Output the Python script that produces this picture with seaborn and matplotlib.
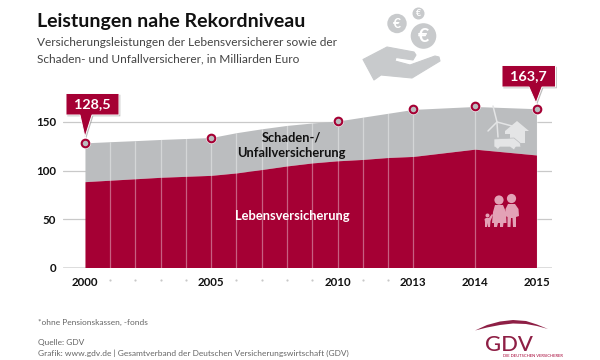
import numpy as np
import matplotlib
matplotlib.use("Agg")
import matplotlib.pyplot as plt
import matplotlib.transforms as mtrans
from matplotlib.patches import Polygon, Circle
import seaborn as sns

years = [2000, 2001, 2002, 2003, 2004, 2005, 2006, 2007, 2008, 2009, 2010, 2011, 2012, 2013, 2014, 2015]
total = [128.5, 129.7, 130.8, 132.0, 133.0, 134.0, 139.0, 143.0, 146.5, 149.0, 151.0, 155.0, 159.0, 163.0, 166.0, 163.7]
life = [88.5, 90.0, 91.5, 93.0, 94.0, 95.0, 97.5, 101.0, 104.7, 107.8, 110.0, 111.4, 113.4, 114.5, 122.0, 116.0]
labelled_years = [2000, 2005, 2010, 2013, 2014, 2015]
minor_years = [2001, 2002, 2003, 2004, 2006, 2007, 2008, 2009, 2011, 2012]
y_ticks = [0, 50, 100, 150]

CRIMSON = "#A50034"
GREY = "#BBBDBF"
LINE = "#C9C9C9"
FONT = "Lato"

sns.set_theme(style="white")
plt.rcParams["font.family"] = FONT

fig = plt.figure(figsize=(6, 3.6), dpi=100, facecolor="white")
px = mtrans.Affine2D().scale(1 / 600, -1 / 360).translate(0, 1) + fig.transFigure

ax = fig.add_axes([63 / 600, 1 - 267.5 / 360, (552 - 63) / 600, (267.5 - 30) / 360])


def fwd(v):
    v = np.asarray(v, dtype=float)
    return np.where(v <= 2013, v - 2000, 13 + (v - 2013) * 2.44)


def inv(u):
    u = np.asarray(u, dtype=float)
    return np.where(u <= 13, u + 2000, 2013 + (u - 13) / 2.44)


ax.set_xscale("function", functions=(fwd, inv))
ax.set_xlim(inv(-22 / 25.3), inv(13 + 2.44 * 2 + 15.5 / 25.3))
ax.set_ylim(0, (267.5 - 30) / 0.97)
for s in ax.spines.values():
    s.set_visible(False)

ax.set_yticks(y_ticks)
ax.set_yticklabels([str(t) for t in y_ticks], fontsize=8.3, fontweight="bold", color="#111111")
ax.tick_params(axis="y", length=0, pad=5)
ax.set_xticks(labelled_years)
ax.set_xticklabels([str(t) for t in labelled_years], fontsize=8.3, fontweight="bold", color="#111111")
ax.minorticks_off()
ax.tick_params(axis="x", length=0, pad=6.5)
ax.yaxis.grid(True, color=LINE, lw=0.9, zorder=0)
ax.xaxis.grid(False)
ax.set_axisbelow(True)
ax.axhline(0, color="#D8D8D8", lw=1.8, zorder=0.5)

ax.fill_between(years, life, total, color=GREY, lw=0, zorder=2)
ax.fill_between(years, 0, life, color=CRIMSON, lw=0, zorder=2)
ax.vlines(years[1:], 0, total[1:], color="white", alpha=0.38, lw=0.9, zorder=3)

mark_total = [total[years.index(y)] for y in labelled_years]
sns.scatterplot(x=labelled_years, y=mark_total, ax=ax, s=60, color="white", linewidth=0,
                zorder=5, clip_on=False, legend=False)
sns.scatterplot(x=labelled_years, y=mark_total, ax=ax, s=30, color=GREY, edgecolor=CRIMSON,
                linewidth=1.5, zorder=6, clip_on=False, legend=False)
sns.scatterplot(x=minor_years, y=[-13] * len(minor_years), ax=ax, s=2.5, color="#C8C8C8", linewidth=0,
                zorder=6, clip_on=False, legend=False)

fig.text(291 / 600, 1 - 138 / 360, "Schaden-/", ha="center", va="center", fontsize=9.3, fontweight="bold", color="#111111")
fig.text(291 / 600, 1 - 153 / 360, "Unfallversicherung", ha="center", va="center", fontsize=9.3, fontweight="bold", color="#111111")
fig.text(292 / 600, 1 - 216 / 360, "Lebensversicherung", ha="center", va="center", fontsize=9.3, fontweight="bold", color="white", zorder=8)

# title block
fig.text(37 / 600, 1 - 21.5 / 360, "Leistungen nahe Rekordniveau", ha="left", va="center", fontsize=14.0, fontweight="bold", color="#111111")
fig.text(37 / 600, 1 - 43 / 360, "Versicherungsleistungen der Lebensversicherer sowie der", ha="left", va="center", fontsize=8.6, color="#444444")
fig.text(37 / 600, 1 - 58.5 / 360, "Schaden- und Unfallversicherer, in Milliarden Euro", ha="left", va="center", fontsize=8.6, color="#444444")

# footer
fig.text(38 / 600, 1 - 322 / 360, "*ohne Pensionskassen, -fonds", ha="left", va="center", fontsize=6.0, color="#666666")
fig.text(38 / 600, 1 - 342 / 360, "Quelle: GDV", ha="left", va="center", fontsize=6.0, color="#666666")
fig.text(38 / 600, 1 - 353 / 360, "Grafik: www.gdv.de | Gesamtverband der Deutschen Versicherungswirtschaft (GDV)", ha="left", va="center", fontsize=6.05, color="#666666")


def add(p):
    p.set_transform(px)
    p.set_clip_on(False)
    fig.add_artist(p)
    return p


def callout(x0, x1, y0, y1, tipx, tipy, baseL, baseR, text):
    pts = [(x0, y0), (x1, y0), (x1, y1), (baseR, y1), (tipx, tipy), (baseL, y1), (x0, y1)]
    add(Polygon([(a + 1.3, b + 1.3) for a, b in pts], closed=True, fc="#8f8f8f", ec="none", alpha=0.6, zorder=9))
    add(Polygon(pts, closed=True, fc=CRIMSON, ec="white", lw=0.7, zorder=10))
    fig.text((x0 + x1) / 2 / 600, 1 - (y0 + y1) / 2 / 360, text, ha="center", va="center", fontsize=10.4,
             fontweight="bold", color="white", zorder=11)


callout(66, 119, 93.5, 115, 85, 137, 80, 92, "128,5")
callout(502, 555.5, 65.5, 87, 536, 103, 529, 542, "163,7")

# coins + hand
IC = "#C8CACC"
for cx, cy, r, fs in [(397, 23.5, 9.7, 10), (423.5, 36, 12.8, 14), (418.5, 13.5, 6, 6.5)]:
    add(Circle((cx, cy), r, fc=IC, ec="none", zorder=5))
    fig.text(cx / 600, 1 - cy / 360, "€", ha="center", va="center", fontsize=fs, fontweight="bold", color="white", zorder=6)
hand = [(363, 59.5), (387, 47), (414, 52), (416, 55), (413, 60), (396, 57.5), (395, 61), (410, 65),
        (435, 56), (439, 57), (440, 61), (412, 78), (381, 75), (374, 80)]
add(Polygon(hand, closed=True, fc=IC, ec=IC, lw=0.8, joinstyle="round", zorder=5))

# turbine, house, car on grey area
W = "#E4E5E6"
for seg in [[(498, 137), (497, 123)], [(497, 122), (488, 131)], [(497, 122), (493, 106)], [(497, 122), (512, 126)]]:
    xs, ys = zip(*seg)
    fig.add_artist(plt.Line2D(xs, ys, color=W, lw=1.1, transform=px, zorder=5))
add(Polygon([(505, 131), (517, 121), (529, 131), (525, 131), (525, 143), (510, 143), (510, 134), (505, 134)], closed=True, fc=W, ec="none", zorder=5))
add(Polygon([(494, 139), (514, 138), (520, 143), (521, 147), (516, 147), (514, 150), (510, 147), (500, 147), (498, 149.5), (495, 147), (494, 147)], closed=True, fc=W, ec=GREY, lw=0.5, zorder=6))

# family on crimson area
F = "#E3A2B6"
add(Circle((499, 200), 4.6, fc=F, ec="none", zorder=5))
add(Circle((511.5, 198.5), 4.6, fc=F, ec="none", zorder=5))
add(Polygon([(495, 205), (503, 205), (506, 212), (506.5, 223), (503.5, 223), (503, 227), (500, 227), (500, 223), (498, 223), (497, 227), (494, 227), (494, 223), (492, 223), (493, 212)], closed=True, fc=F, ec="none", zorder=5))
add(Polygon([(508, 204), (515, 204), (518.5, 209), (519, 216), (516, 217), (516, 227), (513, 227), (512.5, 218), (511, 218), (510.5, 227), (507.5, 227), (507.5, 217), (505.5, 216), (505.5, 209)], closed=True, fc=F, ec="none", zorder=5))
add(Circle((487.5, 215.5), 2, fc=F, ec="none", zorder=5))
add(Polygon([(486, 218), (489, 218), (492, 214), (493, 215), (490.5, 221), (490, 227), (488, 227), (487.5, 223), (487, 227), (485, 227), (485, 222), (484.5, 219)], closed=True, fc=F, ec="none", zorder=5))

# logo
L = "#8E1F45"
sx = np.array([475, 487, 500, 513, 526, 537, 548])
top = np.array([330.5, 325, 321.5, 320, 321, 324.5, 329])
bot = np.array([330.5, 327.5, 325, 323.5, 324, 326, 329])
add(Polygon(list(zip(sx, top)) + list(zip(sx[::-1], bot[::-1])), closed=True, fc=L, ec="none", zorder=5))
fig.text(508.5 / 600, 1 - 351 / 360, "GDV", ha="center", va="baseline", fontsize=15.8, color=L, fontweight="medium")
fig.text(533 / 600, 1 - 356 / 360, "DIE DEUTSCHEN VERSICHERER", ha="center", va="center", fontsize=3.0, color=CRIMSON)

fig.savefig("out.png", dpi=100, facecolor="white")
